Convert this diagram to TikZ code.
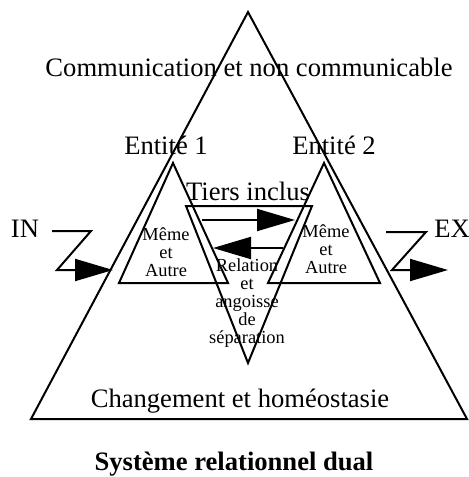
\documentclass[tikz,border=0pt]{standalone}
\usepackage{fontspec}
\setmainfont{Liberation Serif}
\usetikzlibrary{arrows.meta}
\tikzset{
  trait/.style={black, line width=1pt},
  fleche/.style={trait, -{Triangle[length=19pt,width=11pt]}},
  grand/.style={inner sep=0pt, anchor=base, font=\fontsize{13.3}{15}\selectfont},
  petit/.style={inner sep=0pt, align=center, font=\fontsize{9.2}{8.9}\selectfont},
}
\begin{document}
\begin{tikzpicture}[x=0.5pt,y=-0.5pt]
\useasboundingbox (0,0) rectangle (469,477);
% les triangles
\draw[trait] (248,12) -- (467,419) -- (31,419) -- cycle;
\draw[trait] (173,163) -- (228,283) -- (119,283) -- cycle;
\draw[trait] (324,163) -- (380,283) -- (268,283) -- cycle;
\draw[trait] (186,206) -- (312,206) -- (248,363) -- cycle;
% les textes
\node[grand] (comm) at (249,76) {Communication et non communicable};
\node[grand] (ent1) at (166,154) {Entité 1};
\node[grand] (ent2) at (334,154) {Entité 2};
\node[grand] (tiers) at (248,200) {Tiers inclus};
\node[grand] (in) at (25,237) {IN};
\node[grand] (ex) at (452,237) {EX};
\node[grand] (chg) at (240,407) {Changement et homéostasie};
\node[grand, font=\fontsize{13.3}{15}\selectfont\bfseries] (titre) at (234,470) {Système relationnel dual};
\node[petit] (ma1) at (166,252) {Même\\et\\Autre};
\node[petit] (ma2) at (326,249) {Même\\et\\Autre};
\node[petit] (rel) at (247,303) {Relation\\et\\angoisse\\de\\séparation};
% les fleches
\coordinate (a1) at (202,220);
\coordinate (a2) at (295,220);
\coordinate (b1) at (283,248);
\coordinate (b2) at (213,248);
\draw[fleche] (a1) -- (a2);
\draw[fleche] (b1) -- (b2);
\coordinate (in1) at (52,231);
\coordinate (in2) at (91,231);
\coordinate (in3) at (57,270);
\coordinate (in4) at (113,270);
\draw[fleche] (in1) -- (in2) -- (in3) -- (in4);
\coordinate (ex1) at (386,232);
\coordinate (ex2) at (426,232);
\coordinate (ex3) at (392,270);
\coordinate (ex4) at (448,270);
\draw[fleche] (ex1) -- (ex2) -- (ex3) -- (ex4);
\end{tikzpicture}
\end{document}
